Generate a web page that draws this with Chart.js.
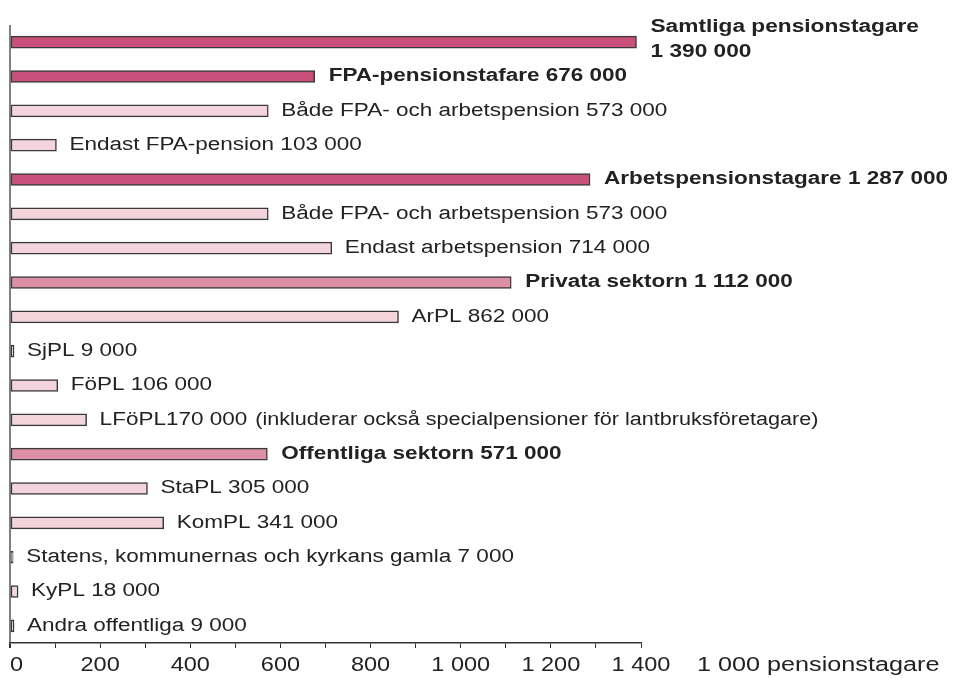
<!DOCTYPE html>
<html>
<head>
<meta charset="utf-8">
<script src="https://cdn.jsdelivr.net/npm/chart.js@4"></script>
<style>
  body { margin: 0; background: #fff; }
</style>
</head>
<body>
<canvas id="pensionChart" width="953" height="678"></canvas>
<script>
// values in 1 000 pensionstagare
const categories = [
    'Samtliga pensionstagare',
    'FPA-pensionstafare',
    'Både FPA- och arbetspension',
    'Endast FPA-pension',
    'Arbetspensionstagare',
    'Både FPA- och arbetspension',
    'Endast arbetspension',
    'Privata sektorn',
    'ArPL',
    'SjPL',
    'FöPL',
    'LFöPL',
    'Offentliga sektorn',
    'StaPL',
    'KomPL',
    'Statens, kommunernas och kyrkans gamla',
    'KyPL',
    'Andra offentliga'
];
const values = [1390, 676, 573, 103, 1287, 573, 714, 1112, 862, 9, 106, 170, 571, 305, 341, 7, 18, 9];
// total = dark, sector = medium, sub = light
const levels = ['total', 'total', 'sub', 'sub', 'total', 'sub', 'sub', 'sector', 'sub',
    'sub', 'sub', 'sub', 'sector', 'sub', 'sub', 'sub', 'sub', 'sub'];
const notes = { 'LFöPL': '(inkluderar också specialpensioner för lantbruksföretagare)' };
const noSpace = ['LFöPL'];
const twoLine = ['Samtliga pensionstagare'];
const tickValues = [0, 200, 400, 600, 800, 1000, 1200, 1400];
const unitLabel = '1 000 pensionstagare';

const colours = { total: '#c8507a', sector: '#dc8fa5', sub: '#f3d4dd' };
const fontFamily = 'Arial, "Liberation Sans", Helvetica, sans-serif';

function fmt(n) {
    return String(n).replace(/\B(?=(\d{3})+(?!\d))/g, ' ');
}

// the original typeface is wider than Arial, so stretch the text a bit
function wideText(ctx, txt, x, y, sx) {
    ctx.save();
    ctx.translate(x, y);
    ctx.scale(sx, 1);
    ctx.fillText(txt, 0, 0);
    const w = ctx.measureText(txt).width * sx;
    ctx.restore();
    return w;
}

const barLabelPlugin = {
    id: 'barLabels',
    afterDatasetsDraw(chart) {
        const ctx = chart.ctx;
        const meta = chart.getDatasetMeta(0);
        ctx.save();
        ctx.fillStyle = '#222';
        ctx.textBaseline = 'middle';
        meta.data.forEach((bar, i) => {
            const name = categories[i];
            const bold = levels[i] !== 'sub';
            ctx.font = (bold ? 'bold ' : '') + '18px ' + fontFamily;
            const num = fmt(values[i] * 1000);
            const x = bar.x + (bold ? 14 : 13);
            if (twoLine.includes(name)) {
                wideText(ctx, name, x, bar.y - 15, 1.26);
                wideText(ctx, num, x, bar.y + 10, 1.26);
                return;
            }
            const txt = name + (noSpace.includes(name) ? '' : ' ') + num;
            const w = wideText(ctx, txt, x, bar.y, 1.25);
            if (notes[name]) {
                wideText(ctx, notes[name], x + w + 8, bar.y, 1.2);
            }
        });

        // x tick labels, stretched like the rest of the text
        const xs = chart.scales.x;
        ctx.font = '21px ' + fontFamily;
        tickValues.forEach((v, i) => {
            const t = fmt(v);
            const w = ctx.measureText(t).width * 1.12;
            const px = xs.getPixelForValue(v);
            wideText(ctx, t, i === 0 ? px : px - w / 2, 665, 1.12);
        });

        // unit label next to the x axis ticks
        ctx.font = '20px ' + fontFamily;
        wideText(ctx, unitLabel, 697, 665, 1.26);
        ctx.restore();
    }
};

new Chart(document.getElementById('pensionChart'), {
    type: 'bar',
    data: {
        labels: categories,
        datasets: [{
            data: values,
            backgroundColor: levels.map(l => colours[l]),
            borderColor: '#3a3a3a',
            borderWidth: 1.5,
            borderSkipped: false,
            barThickness: 12
        }]
    },
    options: {
        indexAxis: 'y',
        responsive: false,
        animation: false,
        layout: {
            padding: { left: 10, right: 312, top: 25, bottom: 0 }
        },
        plugins: {
            legend: { display: false },
            tooltip: { enabled: false }
        },
        scales: {
            x: {
                min: 0,
                max: 1400,
                afterFit: function(scale) {
                    scale.height = 35;
                },
                ticks: {
                    stepSize: 100,
                    autoSkip: false,
                    display: false
                },
                grid: {
                    drawOnChartArea: true,
                    drawTicks: true,
                    tickLength: 5,
                    tickColor: '#333',
                    color: ctx => (ctx.tick && ctx.tick.value === 0) ? '#808080' : 'rgba(0,0,0,0)',
                    lineWidth: ctx => (ctx.tick && ctx.tick.value === 0) ? 2 : 1
                },
                border: { display: true, color: '#333', width: 1.5 }
            },
            y: {
                display: false
            }
        }
    },
    plugins: [barLabelPlugin]
});
</script>
</body>
</html>
